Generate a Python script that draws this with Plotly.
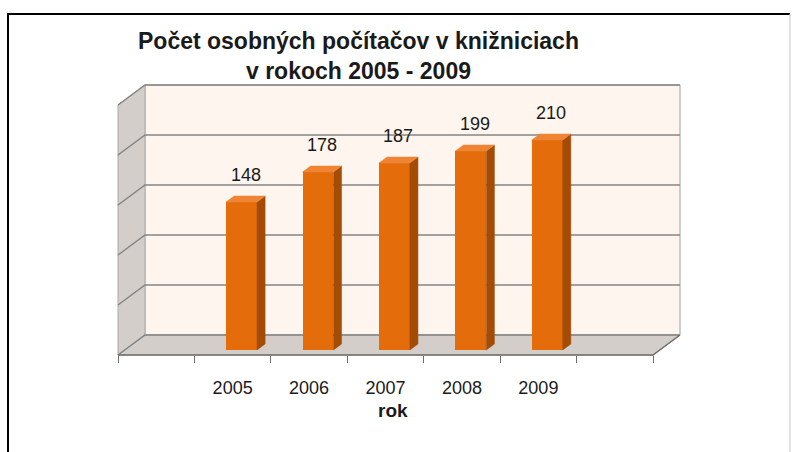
import plotly.graph_objects as go

# ---- data ----
slots = ["", "2005", "2006", "2007", "2008", "2009", ""]   # category slots (first/last empty)
years = ["2005", "2006", "2007", "2008", "2009"]
values = [148, 178, 187, 199, 210]
year_idx = [1, 2, 3, 4, 5]
grid_vals = [0, 50, 100, 150, 200, 250]

# ---- geometry (data units: x = slot index, y = value) ----
SLOT_PX = (653 - 118) / 7.0
X_MIN = -0.5 - 118 / SLOT_PX
X_MAX = -0.5 + (800 - 118) / SLOT_PX
Y_MIN, Y_MAX = -97, 355
DX = 27 / SLOT_PX          # depth offset of the back wall, in x units
DY = 20                    # depth offset of the back wall, in y units
XL, XR = -0.5, len(slots) - 0.5
YTOP = 250

BAR_OFF = -0.086           # front face left edge relative to slot centre
BAR_W = 0.405
BAR_BASE = 5               # front face sits 1/4 into the depth
BDX = 0.3 * DX
BDY = 0.3 * DY

C_FRONT = "#E46C0A"
C_SIDE = "#A24C06"
C_TOP = "#EE8434"
C_WALL = "#FEF5EE"
C_GRAY = "#D3CECA"
C_GRID = "#858585"


def path(xs, ys):
    return "M " + " L ".join(f"{x},{y}" for x, y in zip(xs, ys)) + " Z"


shapes = []
# back wall
shapes.append(dict(type="path", xref="x", yref="y", layer="below",
                   path=path([XL + DX, XR + DX, XR + DX, XL + DX], [DY, DY, YTOP + DY, YTOP + DY]),
                   fillcolor=C_WALL, line=dict(color="#A0A0A0", width=1)))
# side wall
shapes.append(dict(type="path", xref="x", yref="y", layer="below",
                   path=path([XL, XL + DX, XL + DX, XL], [0, DY, YTOP + DY, YTOP]),
                   fillcolor=C_GRAY, line=dict(color="#B0ABA7", width=1)))
# floor
shapes.append(dict(type="path", xref="x", yref="y", layer="below",
                   path=path([XL, XR, XR + DX, XL + DX], [0, 0, DY, DY]),
                   fillcolor=C_GRAY, line=dict(color="#B0ABA7", width=1)))
# gridlines (side-wall diagonal + back wall)
for g in grid_vals:
    shapes.append(dict(type="path", xref="x", yref="y", layer="below",
                       path=f"M {XL},{g} L {XL + DX},{g + DY} L {XR + DX},{g + DY}",
                       line=dict(color=C_GRID, width=1.5)))
# floor front edge
shapes.append(dict(type="path", xref="x", yref="y", layer="below",
                   path=f"M {XL},0 L {XR},0 L {XR + DX},{DY}",
                   line=dict(color="#6E6E6E", width=1.5)))
# outer chart border: left + top black, right faint
shapes.append(dict(type="path", xref="paper", yref="paper", layer="above",
                   path=f"M {8/800},-0.05 L {8/800},{1 - 14/452} L {790/800},{1 - 14/452}",
                   line=dict(color="black", width=2)))
shapes.append(dict(type="line", xref="paper", yref="paper", layer="above",
                   x0=790 / 800, x1=790 / 800, y0=-0.05, y1=1 - 14 / 452,
                   line=dict(color="#C8C8C8", width=1)))

fig = go.Figure()

# bars: front face
fig.add_trace(go.Bar(
    x=year_idx, y=values, base=BAR_BASE, offset=BAR_OFF, width=BAR_W,
    marker=dict(color=C_FRONT, line=dict(width=0)), showlegend=False,
    hovertemplate="%{x}: %{y}<extra></extra>"))

# bars: side and top faces
for xi, v in zip(year_idx, values):
    x0 = xi + BAR_OFF
    x1 = x0 + BAR_W
    for xs, ys, col in (
        ([x1, x1 + BDX, x1 + BDX, x1],
         [BAR_BASE, BAR_BASE + BDY, BAR_BASE + v + BDY, BAR_BASE + v], C_SIDE),
        ([x0, x1, x1 + BDX, x0 + BDX],
         [BAR_BASE + v, BAR_BASE + v, BAR_BASE + v + BDY, BAR_BASE + v + BDY], C_TOP),
    ):
        fig.add_trace(go.Scatter(
            x=xs + [xs[0]], y=ys + [ys[0]], mode="lines", fill="toself",
            fillcolor=col, line=dict(color=col, width=0.5),
            hoverinfo="skip", showlegend=False))

annotations = [
    dict(text=str(v), xref="x", yref="y",
         x=xi + BAR_OFF + (BAR_W + BDX) / 2, y=BAR_BASE + v + BDY,
         xanchor="center", yanchor="bottom", yshift=9, showarrow=False,
         font=dict(size=18, color="#1a1a1a"))
    for xi, v in zip(year_idx, values)
]
annotations += [
    dict(text="<b>Počet osobných počítačov v knižniciach<br>v rokoch 2005 - 2009</b>",
         xref="paper", yref="paper", x=358 / 800, y=1 - 56 / 452,
         xanchor="center", yanchor="middle", showarrow=False,
         font=dict(size=23, color="#1a1a1a")),
    dict(text="<b>rok</b>", xref="paper", yref="paper",
         x=393 / 800, y=1 - 410 / 452, xanchor="center", yanchor="middle",
         showarrow=False, font=dict(size=19, color="#1a1a1a")),
]

fig.update_layout(
    width=800, height=452,
    margin=dict(l=0, r=0, t=0, b=0),
    paper_bgcolor="white", plot_bgcolor="white",
    bargap=0,
    font=dict(family="Liberation Sans, Arial", color="#1a1a1a"),
    xaxis=dict(
        range=[X_MIN, X_MAX], showgrid=False, zeroline=False, showline=False,
        tickvals=year_idx, ticktext=years, ticks="", ticklen=0,
        tickfont=dict(size=18, color="#1a1a1a"), ticklabelstandoff=20,
        anchor="free", position=(452 - 355) / 452.0,
        minor=dict(tickvals=[i - 0.5 for i in range(len(slots) + 1)],
                   ticks="outside", ticklen=7, tickcolor="#6E6E6E", tickwidth=1,
                   showgrid=False),
    ),
    yaxis=dict(range=[Y_MIN, Y_MAX], visible=False),
    shapes=shapes,
    annotations=annotations,
)

fig.write_html("out.html", config={"displayModeBar": False},
               post_script="document.body.style.margin='0';")
